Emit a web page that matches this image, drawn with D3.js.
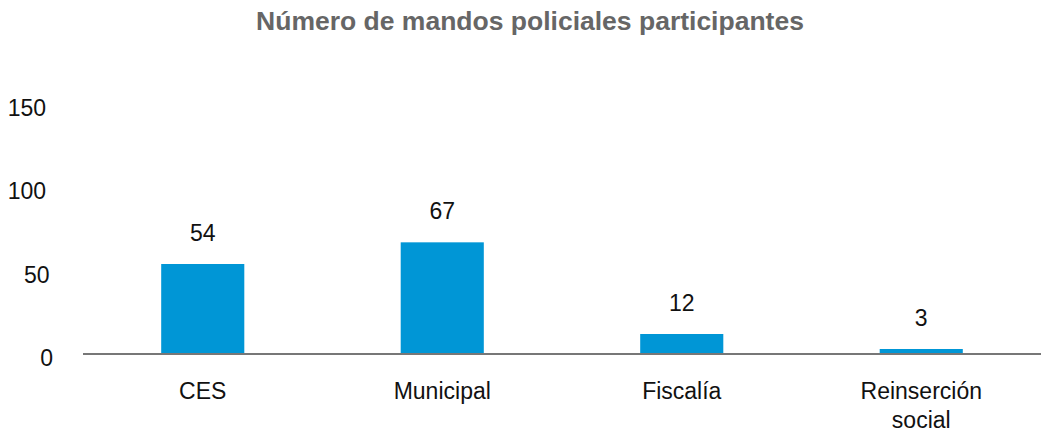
<!DOCTYPE html>
<html>
<head>
<meta charset="utf-8">
<script src="https://cdn.jsdelivr.net/npm/d3@7"></script>
<style>
  body { margin: 0; background: #fff; }
  svg { display: block; font-family: "Liberation Sans", Arial, Helvetica, sans-serif; }
</style>
</head>
<body>
<div class="container"></div>
<script>
const categories = ['CES', 'Municipal', 'Fiscalía', 'Reinserción social'];
const values = [54, 67, 12, 3];
const yTicks = [0, 50, 100, 150];
const title = 'Número de mandos policiales participantes';

const w = 1041;
const h = 433;
const fontSize = '23px';

const svg = d3.select('.container')
    .append('svg')
    .attr('width', w)
    .attr('height', h)
    .attr('viewBox', [0, 0, w, h]);

const x = d3.scaleBand()
    .domain(categories)
    .range([83, 1041])
    .paddingInner(0.653)
    .paddingOuter(0.3265);

const y = d3.scaleLinear()
    .domain([0, 150])
    .range([354, 104]);

// title
svg.append('text')
    .attr('x', 530)
    .attr('y', 30)
    .attr('text-anchor', 'middle')
    .style('font-size', '26.5px')
    .style('font-weight', 'bold')
    .attr('fill', '#666')
    .text(title);

// y axis labels, no line
svg.append('g')
    .call(d3.axisLeft(y).tickValues(yTicks).tickSize(0))
    .call(g => g.select('.domain').remove())
    .call(g => g.selectAll('.tick text')
        .attr('x', d => 56.5 - 3.5 * String(d).length)
        .attr('dy', '11.5')
        .attr('fill', '#111')
        .style('font-size', fontSize)
        .style('font-family', '"Liberation Sans", Arial, sans-serif'));

// bars
svg.append('g')
    .selectAll('rect')
    .data(values)
    .join('rect')
    .attr('x', (d, i) => x(categories[i]))
    .attr('y', d => y(d))
    .attr('width', x.bandwidth())
    .attr('height', d => y(0) - y(d))
    .attr('fill', '#0096d6');

// value labels
svg.append('g')
    .selectAll('text')
    .data(values)
    .join('text')
    .attr('x', (d, i) => x(categories[i]) + x.bandwidth() / 2)
    .attr('y', d => y(d) - 23.5)
    .attr('text-anchor', 'middle')
    .attr('fill', '#111')
    .style('font-size', fontSize)
    .text(d => d);

// baseline
svg.append('line')
    .attr('x1', x.range()[0])
    .attr('x2', x.range()[1])
    .attr('y1', y(0))
    .attr('y2', y(0))
    .attr('stroke', '#777')
    .attr('stroke-width', 2);

// category labels (wrap the long one)
const xAxis = svg.append('g')
    .attr('transform', `translate(0, ${y(0)})`)
    .call(d3.axisBottom(x).tickSize(0))
    .call(g => g.select('.domain').remove());

xAxis.selectAll('.tick text')
    .attr('fill', '#111')
    .style('font-size', fontSize)
    .style('font-family', '"Liberation Sans", Arial, sans-serif')
    .attr('y', 0)
    .attr('dy', null)
    .each(function (d) {
        const t = d3.select(this);
        const words = d.length > 12 ? d.split(' ') : [d];
        t.text(null);
        words.forEach((word, i) => {
            t.append('tspan')
                .attr('x', 0)
                .attr('y', 45 + i * 29)
                .text(word);
        });
    });
</script>
</body>
</html>
